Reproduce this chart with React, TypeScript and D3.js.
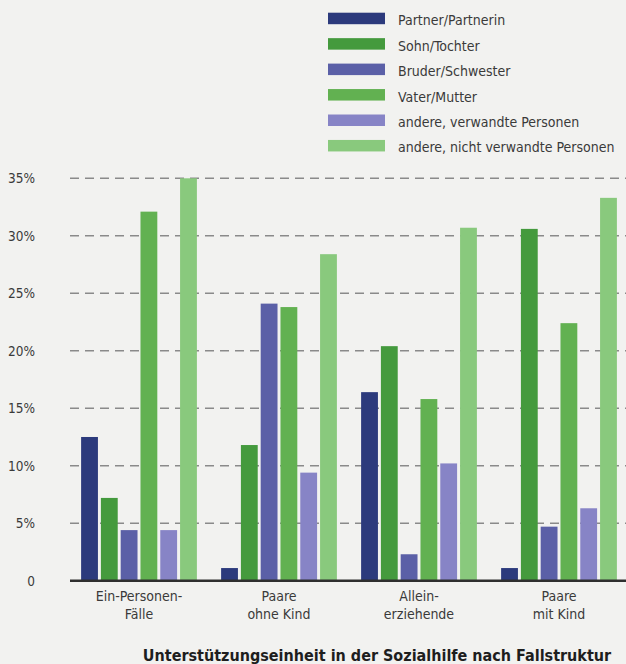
import React, { useEffect, useRef } from 'react';
import * as d3 from 'd3';

const categories = ['Ein-Personen-Fälle', 'Paare ohne Kind', 'Allein-erziehende', 'Paare mit Kind'];
const categoryLines = [
  ['Ein-Personen-', 'Fälle'],
  ['Paare', 'ohne Kind'],
  ['Allein-', 'erziehende'],
  ['Paare', 'mit Kind'],
];
const seriesNames = [
  'Partner/Partnerin',
  'Sohn/Tochter',
  'Bruder/Schwester',
  'Vater/Mutter',
  'andere, verwandte Personen',
  'andere, nicht verwandte Personen',
];
const seriesColors = ['#2c3a7c', '#449a3d', '#5b60a7', '#62b151', '#8784c6', '#89c97d'];

// one array per series, values per category (percent)
const partner = [12.5, 1.1, 16.4, 1.1];
const sohn = [7.2, 11.8, 20.4, 30.6];
const bruder = [4.4, 24.1, 2.3, 4.7];
const vater = [32.1, 23.8, 15.8, 22.4];
const andereVerwandt = [4.4, 9.4, 10.2, 6.3];
const andereNichtVerwandt = [35.0, 28.4, 30.7, 33.3];
const seriesValues = [partner, sohn, bruder, vater, andereVerwandt, andereNichtVerwandt];

const yTicks = [0, 5, 10, 15, 20, 25, 30, 35];
const title = 'Unterstützungseinheit in der Sozialhilfe nach Fallstruktur';

const FONT = "'Liberation Sans Narrow', 'DejaVu Sans Condensed', 'Roboto', sans-serif";

const Chart: React.FC = () => {
  const ref = useRef<SVGSVGElement | null>(null);

  useEffect(() => {
    if (!ref.current) return;
    const width = 626;
    const height = 664;
    const svg = d3.select(ref.current);
    svg.selectAll('*').remove();
    svg.attr('width', width).attr('height', height);

    svg.append('rect').attr('width', width).attr('height', height).attr('fill', '#f2f2f0');

    const y = d3.scaleLinear().domain([0, 35]).range([580.7, 178.3]);
    const x0 = d3.scaleBand().domain(categories).range([69, 629]).paddingInner(0.173).paddingOuter(0.0865);
    const x1 = d3.scaleBand().domain(seriesNames).range([0, x0.bandwidth()]).paddingInner(0.15);

    // gridlines
    svg.append('g')
      .selectAll('line')
      .data(yTicks.filter(t => t > 0))
      .enter()
      .append('line')
      .attr('x1', 70)
      .attr('x2', width)
      .attr('y1', d => y(d))
      .attr('y2', d => y(d))
      .attr('stroke', '#8a8a8a')
      .attr('stroke-width', 1.4)
      .attr('stroke-dasharray', '9,6');

    // y labels
    svg.append('g')
      .selectAll('text')
      .data(yTicks)
      .enter()
      .append('text')
      .attr('x', 35)
      .attr('y', d => y(d) + 5)
      .attr('text-anchor', 'end')
      .attr('font-family', FONT)
      .attr('font-size', 13.5)
      .attr('fill', '#3a3a3a')
      .text(d => (d === 0 ? '0' : `${d}%`));

    // bars
    const groups = svg.append('g')
      .selectAll('g')
      .data(categories)
      .enter()
      .append('g')
      .attr('transform', d => `translate(${x0(d)},0)`);

    groups.selectAll('rect')
      .data((_, ci) => seriesNames.map((s, si) => ({ s, si, v: seriesValues[si][ci] })))
      .enter()
      .append('rect')
      .attr('x', d => x1(d.s) as number)
      .attr('width', x1.bandwidth())
      .attr('y', d => y(d.v))
      .attr('height', d => y(0) - y(d.v))
      .attr('fill', d => seriesColors[d.si]);

    // baseline
    svg.append('line')
      .attr('x1', 70)
      .attr('x2', width)
      .attr('y1', y(0))
      .attr('y2', y(0))
      .attr('stroke', '#2f2f2f')
      .attr('stroke-width', 2.5);

    // category labels
    const cl = svg.append('g')
      .selectAll('text')
      .data(categories)
      .enter()
      .append('text')
      .attr('text-anchor', 'middle')
      .attr('font-family', FONT)
      .attr('font-size', 14)
      .attr('fill', '#3a3a3a');
    cl.each(function (d, i) {
      const t = d3.select(this);
      const cx = (x0(d) as number) + x0.bandwidth() / 2;
      categoryLines[i].forEach((line, li) => {
        t.append('tspan').attr('x', cx).attr('y', 600.5 + li * 18).text(line);
      });
    });

    // legend
    const lg = svg.append('g')
      .selectAll('g')
      .data(seriesNames)
      .enter()
      .append('g')
      .attr('transform', (_, i) => `translate(328,${12.7 + i * 25.45})`);
    lg.append('rect')
      .attr('width', 57)
      .attr('height', 11.5)
      .attr('fill', (_, i) => seriesColors[i]);
    lg.append('text')
      .attr('x', 70)
      .attr('y', 12.5)
      .attr('font-family', FONT)
      .attr('font-size', 14)
      .attr('fill', '#3a3a3a')
      .text(d => d);

    // title
    svg.append('text')
      .attr('x', 377)
      .attr('y', 661)
      .attr('text-anchor', 'middle')
      .attr('font-family', FONT)
      .attr('font-size', 16)
      .attr('font-weight', 'bold')
      .attr('fill', '#1e1e1e')
      .text(title);
  }, []);

  return <svg ref={ref}></svg>;
};

const App: React.FC = () => (
  <div style={{ position: 'absolute', left: 0, top: 0 }}>
    <Chart />
  </div>
);

export default App;
